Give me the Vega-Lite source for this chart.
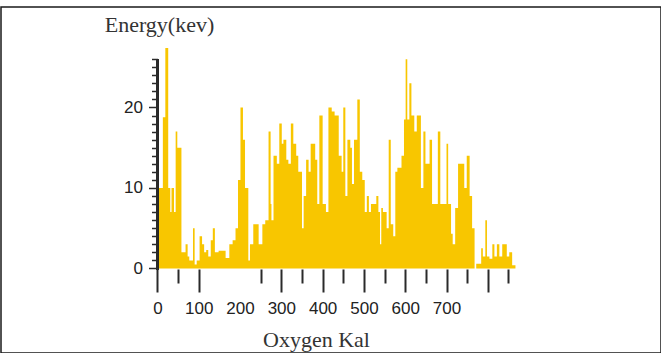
{
  "$schema": "https://vega.github.io/schema/vega-lite/v6.json",
  "autosize": {"type": "none"},
  "width": 660,
  "height": 346,
  "padding": {"left": 1, "top": 7, "right": 0, "bottom": 0},
  "background": "white",
  "config": {
    "view": {"stroke": "#1a1a1a", "strokeWidth": 1.5},
    "axis": {"grid": false}
  },
  "data": {
    "values": [
      {"x": 0, "y": 10}, {"x": 13, "y": 18.8}, {"x": 19, "y": 27.4}, {"x": 26, "y": 10}, {"x": 31, "y": 7},
      {"x": 34, "y": 10}, {"x": 40, "y": 7}, {"x": 44, "y": 17}, {"x": 48, "y": 15}, {"x": 58, "y": 2},
      {"x": 68, "y": 3}, {"x": 73, "y": 1.5}, {"x": 77, "y": 1}, {"x": 86, "y": 5}, {"x": 90, "y": 0.5},
      {"x": 95, "y": 1}, {"x": 102, "y": 4}, {"x": 108, "y": 3}, {"x": 113, "y": 2}, {"x": 118, "y": 2.3},
      {"x": 123, "y": 1.5}, {"x": 129, "y": 3.5}, {"x": 134, "y": 5}, {"x": 139, "y": 2}, {"x": 148, "y": 2.2},
      {"x": 165, "y": 1.3}, {"x": 174, "y": 3}, {"x": 182, "y": 3.5}, {"x": 189, "y": 5}, {"x": 195, "y": 11},
      {"x": 201, "y": 20}, {"x": 207, "y": 16}, {"x": 212, "y": 10}, {"x": 220, "y": 1}, {"x": 224, "y": 3},
      {"x": 232, "y": 5.5}, {"x": 245, "y": 3}, {"x": 254, "y": 5.5}, {"x": 261, "y": 6}, {"x": 269, "y": 17},
      {"x": 274, "y": 8}, {"x": 276, "y": 6}, {"x": 281, "y": 14}, {"x": 289, "y": 13}, {"x": 295, "y": 18},
      {"x": 301, "y": 15.5}, {"x": 305, "y": 16}, {"x": 312, "y": 13.5}, {"x": 317, "y": 13}, {"x": 323, "y": 18},
      {"x": 329, "y": 15.5}, {"x": 336, "y": 14}, {"x": 341, "y": 12}, {"x": 350, "y": 5}, {"x": 354, "y": 9},
      {"x": 360, "y": 13.5}, {"x": 366, "y": 12}, {"x": 371, "y": 15.5}, {"x": 382, "y": 13.5}, {"x": 387, "y": 8},
      {"x": 392, "y": 19}, {"x": 400, "y": 8}, {"x": 408, "y": 7}, {"x": 414, "y": 20}, {"x": 422, "y": 19.5},
      {"x": 429, "y": 19}, {"x": 439, "y": 14}, {"x": 446, "y": 12}, {"x": 450, "y": 20}, {"x": 455, "y": 9},
      {"x": 460, "y": 16}, {"x": 467, "y": 15}, {"x": 471, "y": 10.5}, {"x": 476, "y": 16}, {"x": 484, "y": 21},
      {"x": 490, "y": 12}, {"x": 496, "y": 11}, {"x": 502, "y": 7}, {"x": 507, "y": 9}, {"x": 512, "y": 7},
      {"x": 517, "y": 8}, {"x": 530, "y": 9}, {"x": 535, "y": 7}, {"x": 539, "y": 3}, {"x": 542, "y": 7.5},
      {"x": 546, "y": 7}, {"x": 555, "y": 5}, {"x": 560, "y": 16}, {"x": 565, "y": 5.5}, {"x": 571, "y": 4},
      {"x": 576, "y": 12}, {"x": 581, "y": 12.5}, {"x": 591, "y": 14}, {"x": 597, "y": 18.5}, {"x": 601, "y": 26},
      {"x": 605, "y": 18.5}, {"x": 610, "y": 23}, {"x": 615, "y": 19}, {"x": 622, "y": 17}, {"x": 628, "y": 19},
      {"x": 638, "y": 10}, {"x": 644, "y": 17}, {"x": 649, "y": 13}, {"x": 659, "y": 16}, {"x": 665, "y": 8},
      {"x": 679, "y": 17}, {"x": 685, "y": 8}, {"x": 700, "y": 15.5}, {"x": 704, "y": 8}, {"x": 711, "y": 4.3},
      {"x": 715, "y": 3}, {"x": 721, "y": 7.5}, {"x": 728, "y": 13}, {"x": 743, "y": 10}, {"x": 749, "y": 14},
      {"x": 756, "y": 9}, {"x": 762, "y": 5}, {"x": 768, "y": 0}, {"x": 772, "y": 0.6}, {"x": 784, "y": 2.5},
      {"x": 788, "y": 1.5}, {"x": 794, "y": 6}, {"x": 798, "y": 1.5}, {"x": 804, "y": 1.2}, {"x": 811, "y": 3},
      {"x": 816, "y": 1.5}, {"x": 822, "y": 3}, {"x": 828, "y": 1.5}, {"x": 835, "y": 3}, {"x": 846, "y": 1.5},
      {"x": 852, "y": 2}, {"x": 859, "y": 0.4}, {"x": 867, "y": 0}
    ]
  },
  "resolve": {
    "scale": {"x": "shared", "y": "shared"},
    "axis": {"x": "independent", "y": "independent"}
  },
  "layer": [
    {
      "mark": {"type": "area", "interpolate": "step-after", "color": "#F8C600"},
      "encoding": {
        "x": {
          "field": "x", "type": "quantitative",
          "scale": {"domain": [-379.0, 1219.5], "nice": false, "zero": false},
          "axis": {
            "orient": "bottom",
            "offset": -84,
            "domain": false,
            "values": [0, 100, 200, 300, 400, 500, 600, 700, 800],
            "tickSize": 23,
            "tickOpacity": {"condition": {"test": "datum.value === 200", "value": 0}, "value": 1},
            "tickColor": "#2a2a2a",
            "tickWidth": 2,
            "labelExpr": "datum.value <= 700 ? datum.label : ''",
            "labelFont": "Liberation Sans",
            "labelFontSize": 17,
            "labelColor": "#222222",
            "labelPadding": 8,
            "labelFlush": false,
            "labelOverlap": false,
            "title": "Oxygen Kal",
            "titleFont": "Liberation Serif",
            "titleFontSize": 22,
            "titleFontWeight": "normal",
            "titleColor": "#333333",
            "titleX": 315,
            "titleY": 77,
            "titleAlign": "center",
            "titleBaseline": "alphabetic",
            "titleAnchor": null
          }
        },
        "y": {
          "field": "y", "type": "quantitative",
          "scale": {"domain": [-10.5, 32.48], "nice": false, "zero": false},
          "axis": {
            "orient": "left",
            "offset": -156.5,
            "domain": false,
            "values": [0, 10, 20],
            "tickSize": 9,
            "tickColor": "#2a2a2a",
            "tickWidth": 1.5,
            "labelFont": "Liberation Sans",
            "labelFontSize": 17,
            "labelColor": "#222222",
            "labelPadding": 6,
            "labelFlush": false,
            "labelOverlap": false,
            "title": "Energy(kev)",
            "titleFont": "Liberation Serif",
            "titleFontSize": 22,
            "titleFontWeight": "normal",
            "titleColor": "#333333",
            "titleAngle": 0,
            "titleX": 1.5,
            "titleY": 24,
            "titleAlign": "center",
            "titleBaseline": "alphabetic",
            "titleAnchor": null
          }
        },
        "y2": {"datum": 0}
      }
    },
    {
      "mark": {"type": "rule", "color": "#2a2a2a", "strokeWidth": 1.5},
      "encoding": {
        "x": {
          "datum": 0, "type": "quantitative",
          "axis": {
            "orient": "bottom",
            "offset": -84,
            "domain": false,
            "values": [50, 250, 350, 450, 550, 650, 750, 850],
            "tickSize": 14,
            "tickColor": "#2a2a2a",
            "tickWidth": 2,
            "labels": false,
            "title": null
          }
        },
        "y": {
          "datum": -0.2, "type": "quantitative",
          "axis": {
            "orient": "left",
            "offset": -156.5,
            "domain": false,
            "values": [1, 2, 3, 4, 5, 6, 7, 8, 9, 11, 12, 13, 14, 15, 16, 17, 18, 19, 21, 22, 23, 24, 25, 26],
            "tickSize": 6,
            "tickColor": "#2a2a2a",
            "tickWidth": 1.5,
            "labels": false,
            "title": null
          }
        },
        "y2": {"datum": 26}
      }
    }
  ]
}
